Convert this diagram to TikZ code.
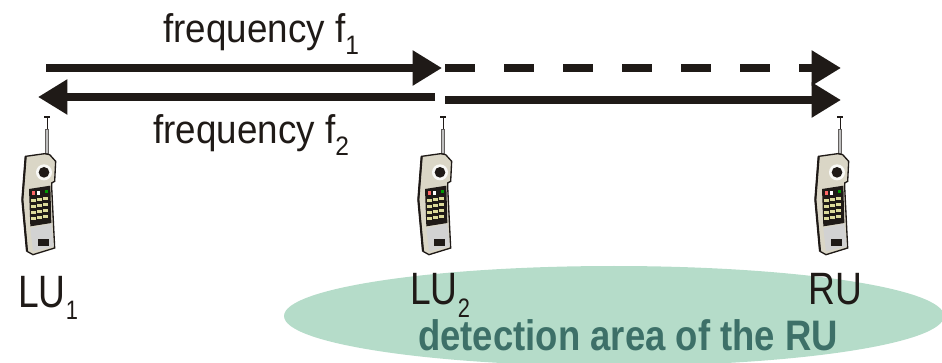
\documentclass[tikz,border=0pt]{standalone}
\usepackage{fontspec}
\setmainfont[FakeStretch=0.82]{Liberation Sans}
\newfontfamily\freqfont[FakeStretch=0.92]{Liberation Sans}
\newfontfamily\areafont[FakeStretch=0.855]{Liberation Sans}
\usetikzlibrary{arrows.meta}
\definecolor{areagreen}{HTML}{B5DCC9}
\definecolor{areatext}{HTML}{3D7068}
\definecolor{inkblack}{HTML}{1F1A17}
\definecolor{phonebody}{HTML}{DAD6C6}
\definecolor{phonekey}{HTML}{DCDA9A}
\newcommand{\lowidx}[1]{\raisebox{-0.28em}{\fontsize{20pt}{20pt}\selectfont #1}}
\tikzset{
  textLine/.style={rectangle, inner sep=0pt, text=inkblack, font=\fontsize{30pt}{32pt}\freqfont, anchor=base west},
  textLabel/.style={rectangle, inner sep=0pt, text=inkblack, font=\fontsize{34pt}{36pt}\selectfont, anchor=base west},
  signal/.style={line width=6pt, draw=inkblack, -{Triangle[length=22pt,width=25pt,fill=inkblack]}},
  phone/.pic={
    \begin{scope}[x=0.25pt,y=-0.25pt,shift={(-142,-52)}]
    % antenna
    \draw[line width=0.7pt,inkblack] (142,52) -- (142,90);
    \fill[inkblack] (134,49) rectangle (150,55);
    \draw[line width=3pt,inkblack!70] (142,88) -- (142,162);
    \draw[line width=1.4pt,gray!50] (143,90) -- (143,160);
    % body
    \filldraw[fill=phonebody,draw=inkblack,line width=1pt] (78,170) -- (135,162) -- (150,165) -- (168,185) -- (165,245) -- (156,250) -- (156,262) -- (165,445) -- (100,465) -- (82,455) -- (68,300) -- cycle;
    \draw[inkblack,line width=1.6pt] (78,170) -- (68,300) -- (82,455);
    % speaker
    \fill[white!85!phonebody] (133,218) circle (24);
    \fill[inkblack] (133,218) circle (16);
    % keypad
    \fill[inkblack] (88,268) -- (152,258) -- (155,370) -- (92,380) -- cycle;
    \fill[red!60] (98,275) rectangle (106,285);
    \fill[white] (112,273) rectangle (120,285);
    \fill[green!60!black] (137,271) rectangle (145,281);
    \foreach \row in {0,1,2,3}
      \foreach \col in {0,1,2}
        \fill[phonekey] ({95+18*\col},{297+18*\row-3*\col}) rectangle ++(13,11);
    % bottom panel
    \fill[gray!35] (92,385) -- (155,372) -- (162,440) -- (100,455) -- cycle;
    \fill[inkblack] (116,418) rectangle (148,440);
    \end{scope}
  }
}
\begin{document}
\begin{tikzpicture}[x=0.75pt, y=-0.75pt]
\clip (0,0) rectangle (942,363);
%detection area
\fill[areagreen] (614,316) ellipse (330 and 50);

%end points of the signals
\coordinate (f1start) at (46,68);
\coordinate (f1end) at (442,68);
\coordinate (f1dash) at (445,68);
\coordinate (f1ru) at (841,68);
\coordinate (f2start) at (435,97);
\coordinate (f2end) at (38,97);
\coordinate (f2lu) at (445,100);
\coordinate (f2ru) at (841,100);
\draw[signal] (f1start) -- (f1end);
\draw[signal, dash pattern=on 22.5pt off 21.8pt] (f1dash) -- (f1ru);
\draw[signal] (f2start) -- (f2end);
\draw[signal] (f2lu) -- (f2ru);

\node[textLine] (freqone) at (163,43) {frequency f\lowidx{1}};
\node[textLine] (freqtwo) at (153,144) {frequency f\lowidx{2}};

%phones
\pic at (47,117) {phone};
\pic at (443,117) {phone};
\pic at (840,117) {phone};

\node[textLabel] (luone) at (18,307) {LU\lowidx{1}};
\node[textLabel] (lutwo) at (410,305) {LU\lowidx{2}};
\node[textLabel] (ru) at (808,305) {RU};
\node[rectangle, inner sep=0pt, anchor=base west, text=areatext, font=\fontsize{32pt}{34pt}\areafont\bfseries] (area) at (418,350) {detection area of the RU};
\end{tikzpicture}
\end{document}
